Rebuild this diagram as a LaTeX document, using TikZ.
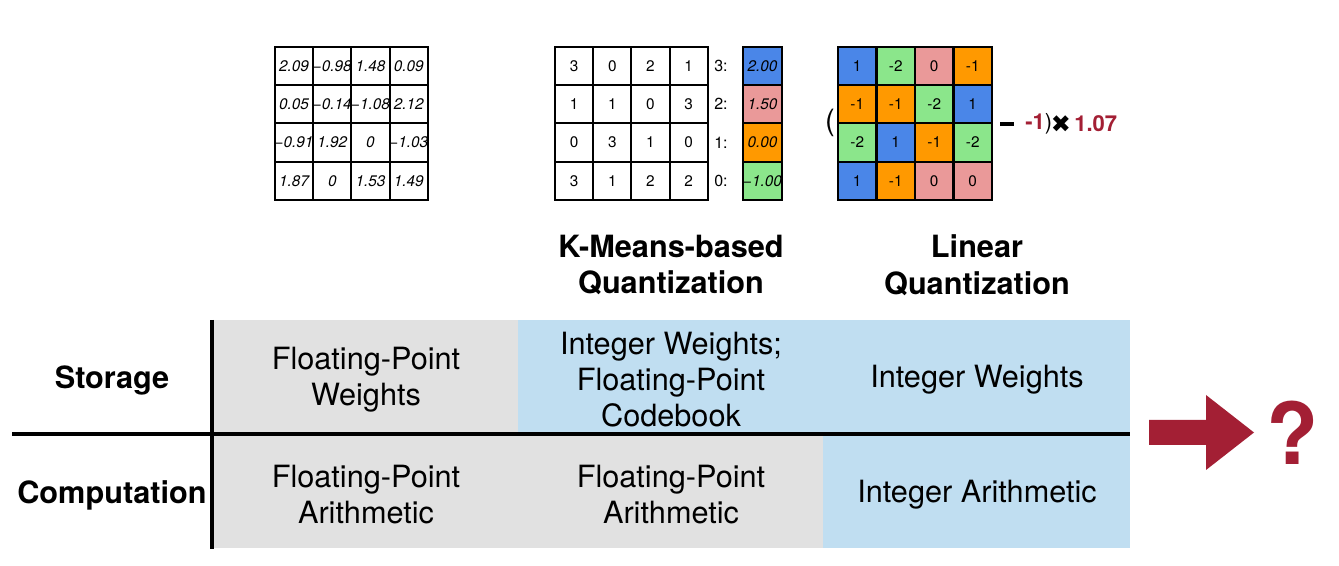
\documentclass[tikz,border=0pt]{standalone}
\usepackage{fontspec}
\setmainfont{TeX Gyre Heros}
\newfontfamily\symfont{DejaVu Sans}
\usetikzlibrary{calc}
\definecolor{qb}{HTML}{4A86E8}
\definecolor{qp}{HTML}{EA9999}
\definecolor{qo}{HTML}{FF9900}
\definecolor{qg}{HTML}{8BE68B}
\definecolor{cellgray}{HTML}{E1E1E1}
\definecolor{cellblue}{HTML}{C0DEF1}
\definecolor{mitred}{HTML}{A31F34}
\tikzset{
  mcell/.style={inner sep=0pt, font=\fontsize{11.5}{13}\selectfont},
  gridline/.style={line width=1.6pt, line cap=rect},
  tabtext/.style={align=center, inner sep=0pt, font=\fontsize{23}{27}\selectfont},
  rowhead/.style={align=center, inner sep=0pt, font=\fontsize{23}{27}\selectfont\bfseries},
  title/.style={align=center, inner sep=0pt, font=\fontsize{23}{27.5}\selectfont\bfseries},
  rule/.style={line width=3pt},
  formula/.style={inner sep=0pt, font=\fontsize{16.5}{19}\selectfont\bfseries},
}
\newcommand\mygrid[3]{%
  \foreach \k in {0,...,4} {
    \draw[gridline] ({#1+\k*#3},#2) -- ({#1+\k*#3},{#2+4*#3});
    \draw[gridline] (#1,{#2+\k*#3}) -- ({#1+4*#3},{#2+\k*#3});
  }}
\begin{document}
\begin{tikzpicture}[x=0.75pt,y=-0.75pt]
\useasboundingbox (0,0) rectangle (1339,566);
\def\cs{38.2}
% ---------- matrix 1: floating-point weights
\foreach \row [count=\r] in {{2.09,−0.98,1.48,0.09},{0.05,−0.14,−1.08,2.12},{−0.91,1.92,0,−1.03},{1.87,0,1.53,1.49}} {
  \foreach \v [count=\c] in \row {
    \node[mcell, font=\fontsize{11.5}{13}\selectfont\itshape] (fa-\r-\c) at ({275+(\c-0.5)*\cs},{47+(\r-0.5)*\cs}) {\v};
  }
}
\mygrid{275}{47}{\cs}
% ---------- matrix 2: cluster indices
\foreach \row [count=\r] in {{3,0,2,1},{1,1,0,3},{0,3,1,0},{3,1,2,2}} {
  \foreach \v [count=\c] in \row {
    \node[mcell] (ka-\r-\c) at ({555+(\c-0.5)*\cs},{47+(\r-0.5)*\cs}) {\v};
  }
}
\mygrid{555}{47}{\cs}
% codebook
\foreach \v/\col/\lab [count=\r] in {2.00/qb/3, 1.50/qp/2, 0.00/qo/1, −1.00/qg/0} {
  \fill[\col] (743,{47+(\r-1)*\cs}) rectangle (782,{47+\r*\cs});
  \node[mcell, font=\fontsize{11.5}{13}\selectfont\itshape] (cb-\r) at (762.5,{47+(\r-0.5)*\cs}) {\v};
  \node[mcell, font=\fontsize{12}{14}\selectfont] (cl-\r) at (721,{47+(\r-0.5)*\cs}) {\lab:};
}
\foreach \k in {0,...,4} \draw[gridline] (743,{47+\k*\cs}) -- (782,{47+\k*\cs});
\draw[gridline] (743,47) -- (743,{47+4*\cs});
\draw[gridline] (782,47) -- (782,{47+4*\cs});
% ---------- matrix 3: linear quantization
\def\cq{38.5}
\foreach \row [count=\r] in {{1/qb,-2/qg,0/qp,-1/qo},{-1/qo,-1/qo,-2/qg,1/qb},{-2/qg,1/qb,-1/qo,-2/qg},{1/qb,-1/qo,0/qp,0/qp}} {
  \foreach \v/\col [count=\c] in \row {
    \fill[\col] ({838+(\c-1)*\cq},{47+(\r-1)*\cs}) rectangle ({838+\c*\cq},{47+\r*\cs});
    \node[mcell] (la-\r-\c) at ({838+(\c-0.5)*\cq},{47+(\r-0.5)*\cs}) {\v};
  }
}
\foreach \k in {0,...,4} {
  \draw[gridline] ({838+\k*\cq},47) -- ({838+\k*\cq},{47+4*\cs});
  \draw[gridline] (838,{47+\k*\cs}) -- ({838+4*\cq},{47+\k*\cs});
}
\node[inner sep=0pt, font=\fontsize{22}{24}\selectfont] (lpar) at (830,123) {(};
\node[inner sep=0pt] (minus) at (1007,124) {\rule{10.5pt}{2.8pt}};
\node[formula, anchor=west, text=mitred] (zp) at (1025,124) {-1\textcolor{black}{\mdseries)}};
\node[inner sep=0pt, font=\fontsize{18}{20}\selectfont\symfont] (times) at (1061,124) {✖};
\node[formula, anchor=west, text=mitred] (scale) at (1074,124) {1.07};
% ---------- titles
\node[title] (t-km) at (671,265) {K-Means-based\\Quantization};
\node[title] (t-lin) at (977,265) {Linear\\Quantization};
% ---------- table
\fill[cellgray] (214,320) rectangle (518,434);
\fill[cellblue] (518,320) rectangle (1130,434);
\fill[cellgray] (214,434) rectangle (823,548);
\fill[cellblue] (823,434) rectangle (1130,548);
\coordinate (vtop) at (212,320);
\coordinate (vbot) at (212,549);
\coordinate (hl) at (12,434);
\coordinate (hr) at (1130,434);
\draw[rule] (vtop) -- (vbot);
\draw[rule] (hl) -- (hr);
\node[rowhead] (storage) at (112,380) {Storage};
\node[rowhead] (comp) at (112,495) {Computation};
\node[tabtext] (s1) at (366,380) {Floating-Point\\Weights};
\node[tabtext] (s2) at (671,380) {Integer Weights;\\Floating-Point\\Codebook};
\node[tabtext] (s3) at (977,380) {Integer Weights};
\node[tabtext] (c1) at (366,495) {Floating-Point\\Arithmetic};
\node[tabtext] (c2) at (671,495) {Floating-Point\\Arithmetic};
\node[tabtext] (c3) at (977,495) {Integer Arithmetic};
% ---------- arrow and question mark
\fill[mitred] (1149,420) -- (1206,420) -- (1206,395) -- (1254,432.5) -- (1206,470) -- (1206,445) -- (1149,445) -- cycle;
\node[inner sep=0pt, text=mitred, font=\fontsize{64}{70}\selectfont\bfseries] (qm) at (1293,433) {?};
\end{tikzpicture}
\end{document}
